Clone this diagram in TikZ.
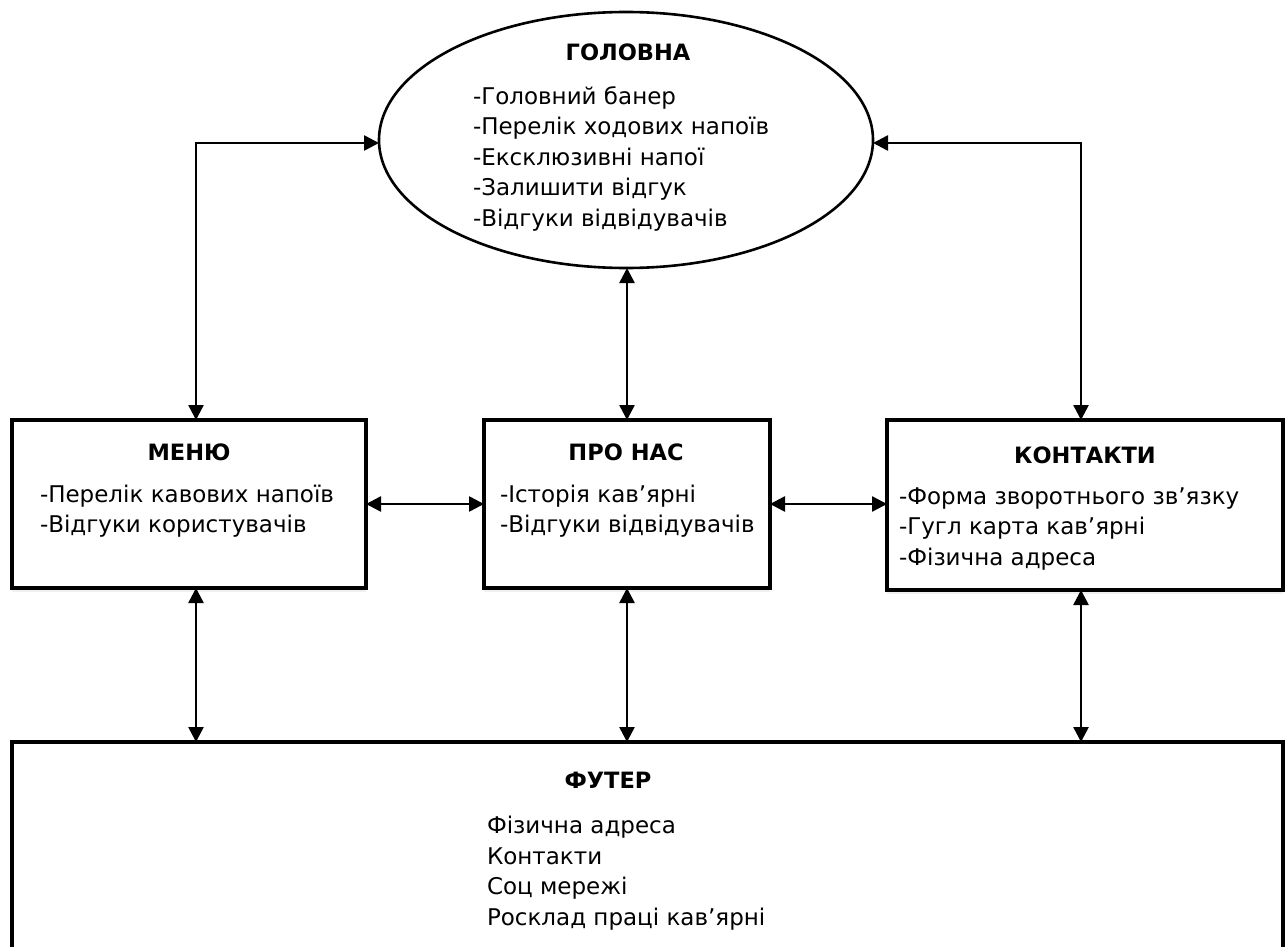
\documentclass[tikz,border=0pt]{standalone}
\usepackage{fontspec}
\setmainfont{DejaVu Sans}
\usetikzlibrary{shapes.geometric,arrows.meta,shadows}
\begin{document}
\begin{tikzpicture}[x=1pt,y=-1pt,
  every node/.style={inner sep=0pt,outer sep=0pt},
  txt/.style={font=\fontsize{23}{30.5}\selectfont,align=left,anchor=west},
  ttl/.style={font=\fontsize{22.5}{26}\selectfont\bfseries},
  boxx/.style={draw,line width=3.4pt,fill=white,drop shadow={opacity=0.12,shadow xshift=0pt,shadow yshift=-4pt}},
  arr/.style={line width=2.6pt,{Triangle[length=15pt,width=15pt]}-{Triangle[length=15pt,width=15pt]}}
]
\useasboundingbox (0,0) rectangle (1288,947);
\begin{scope}
\clip (0,0) rectangle (1288,947);
% shapes
\node[draw,ellipse,line width=2.6pt,minimum width=494pt,minimum height=256pt,fill=white] (head) at (626,140) {};
\node[boxx,minimum width=354pt,minimum height=168pt] (menu) at (189,504) {};
\node[boxx,minimum width=286pt,minimum height=168pt] (about) at (627,504) {};
\node[boxx,minimum width=396pt,minimum height=170pt] (cont) at (1085,505) {};
\node[draw,line width=3.4pt,fill=white,minimum width=1271pt,minimum height=260pt] (foot) at (647.5,872) {};
\end{scope}
% texts
\node[ttl] (headT) at (628,52) {ГОЛОВНА};
\node[txt] (headL) at (473,158.5) {-Головний банер\\-Перелік ходових напоїв\\-Ексклюзивні напої\\-Залишити відгук\\-Відгуки відвідувачів};
\node[ttl] (menuT) at (189,452) {МЕНЮ};
\node[txt] (menuL) at (40,511) {-Перелік кавових напоїв\\-Відгуки користувачів};
\node[ttl] (aboutT) at (626,452) {ПРО НАС};
\node[txt] (aboutL) at (500,511) {-Історія кав’ярні\\-Відгуки відвідувачів};
\node[ttl] (contT) at (1085,455) {КОНТАКТИ};
\node[txt] (contL) at (899,529) {-Форма зворотнього зв’язку\\-Гугл карта кав’ярні\\-Фізична адреса};
\node[ttl] (footT) at (608,780) {ФУТЕР};
\node[txt] (footL) at (487,873) {Фізична адреса\\Контакти\\Соц мережі\\Росклад праці кав’ярні};
% connector x positions
\coordinate (xl) at (196,0);
\coordinate (xm) at (627,0);
\coordinate (xr) at (1081,0);
\coordinate (yh) at (0,143);
% connectors
\draw[arr] (menu.north -| xl) |- (head.west |- yh);
\draw[arr] (head.east |- yh) -| (cont.north -| xr);
\draw[arr] (head.south -| xm) -- (about.north -| xm);
\draw[arr] (menu.east) -- (about.west);
\draw[arr] (about.east) -- (cont.west |- about.east);
\draw[arr] (menu.south -| xl) -- (foot.north -| xl);
\draw[arr] (about.south -| xm) -- (foot.north -| xm);
\draw[arr] (cont.south -| xr) -- (foot.north -| xr);
\end{tikzpicture}
\end{document}
